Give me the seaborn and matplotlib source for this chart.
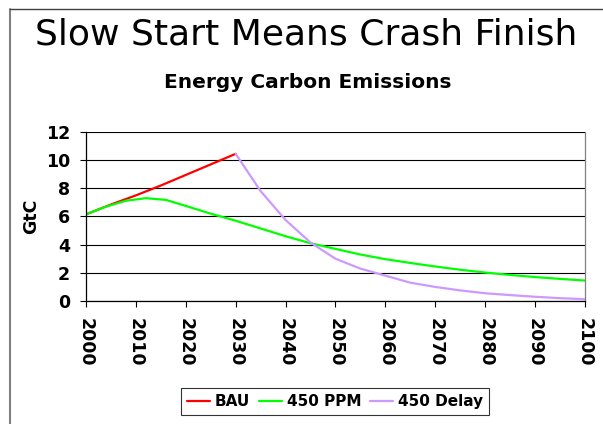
import numpy as np
import pandas as pd
import seaborn as sns
import matplotlib
matplotlib.use("Agg")
import matplotlib.pyplot as plt

# Values (GtC)
bau_years = [2000, 2005, 2010, 2015, 2020, 2025, 2030]
bau = [6.15, 6.85, 7.5, 8.2, 8.95, 9.7, 10.45]

ppm_years = [2000, 2004, 2008, 2012, 2016, 2020, 2025, 2030, 2035, 2040, 2045,
             2050, 2055, 2060, 2065, 2070, 2075, 2080, 2085, 2090, 2095, 2100]
ppm450 = [6.15, 6.7, 7.12, 7.3, 7.18, 6.75, 6.2, 5.7, 5.15, 4.6, 4.1,
          3.7, 3.3, 2.97, 2.7, 2.45, 2.22, 2.02, 1.85, 1.7, 1.57, 1.45]

delay_years = list(range(2030, 2101, 5))
delay450 = [10.45, 7.8, 5.75, 4.15, 3.0, 2.3, 1.8, 1.3, 1.0, 0.75,
            0.55, 0.42, 0.3, 0.2, 0.13]

series_names = ["BAU", "450 PPM", "450 Delay"]
series_colors = ["#FF0000", "#00FF00", "#CC99FF"]

df = pd.concat([
    pd.DataFrame({"Year": bau_years, "GtC": bau, "Scenario": "BAU"}),
    pd.DataFrame({"Year": ppm_years, "GtC": ppm450, "Scenario": "450 PPM"}),
    pd.DataFrame({"Year": delay_years, "GtC": delay450, "Scenario": "450 Delay"}),
])

sns.set_theme(style="white")
plt.rcParams["font.family"] = ["DejaVu Sans"]
plt.rcParams["text.color"] = "black"
plt.rcParams["axes.labelcolor"] = "black"
plt.rcParams["xtick.color"] = "black"
plt.rcParams["ytick.color"] = "black"

fig = plt.figure(figsize=(6.03, 4.24), dpi=100)
ax = fig.add_axes([0.1426, 0.2901, 0.8275, 0.3986])

sns.lineplot(data=df, x="Year", y="GtC", hue="Scenario", hue_order=series_names,
             palette=series_colors, linewidth=1.6, ax=ax, legend=False)

ax.set_xlim(2000, 2100)
ax.set_ylim(0, 12)
ax.set_xticks(range(2000, 2101, 10))
ax.set_yticks(range(0, 13, 2))
ax.set_xticklabels([str(y) for y in range(2000, 2101, 10)], rotation=-90,
                   fontsize=12.5, fontweight="bold")
ax.set_yticklabels([str(v) for v in range(0, 13, 2)], fontsize=12.5, fontweight="bold")
ax.yaxis.grid(True, color="black", linewidth=0.8)
ax.set_axisbelow(True)
ax.tick_params(axis="both", direction="out", length=4.5, width=0.8, color="black",
               bottom=True, left=True)
ax.tick_params(axis="x", pad=7.5)
ax.tick_params(axis="y", pad=7)
ax.set_xlabel("")
ax.set_ylabel("GtC", fontsize=12.5, fontweight="bold", labelpad=4)
for s in ["left", "bottom"]:
    ax.spines[s].set_color("black")
    ax.spines[s].set_linewidth(0.9)
ax.spines["top"].set_visible(False)
ax.spines["right"].set_color("#808080")
ax.spines["right"].set_linewidth(0.9)

fig.text(0.51, 0.7925, "Energy Carbon Emissions", ha="center", va="baseline",
         fontsize=14.5, fontweight="bold")
fig.text(0.507, 0.894, "Slow Start Means Crash Finish", ha="center", va="baseline",
         fontsize=26)

handles = [plt.Line2D([], [], color=c, linewidth=1.6) for c in series_colors]
leg = fig.legend(handles, series_names, loc="center", bbox_to_anchor=(0.556, 0.053),
                 ncol=3, frameon=True, fancybox=False, handlelength=1.5,
                 handletextpad=0.3, columnspacing=0.6, borderpad=0.4,
                 prop={"size": 11, "weight": "bold"})
leg.get_frame().set_edgecolor("black")
leg.get_frame().set_linewidth(0.8)

# grey outer frame (left and top)
fig.add_artist(plt.Line2D([0.016, 0.016], [0.0, 0.979], color="#808080", linewidth=1.5))
fig.add_artist(plt.Line2D([0.016, 1.0], [0.979, 0.979], color="#404040", linewidth=1.0))

fig.savefig("out.png", dpi=100)
